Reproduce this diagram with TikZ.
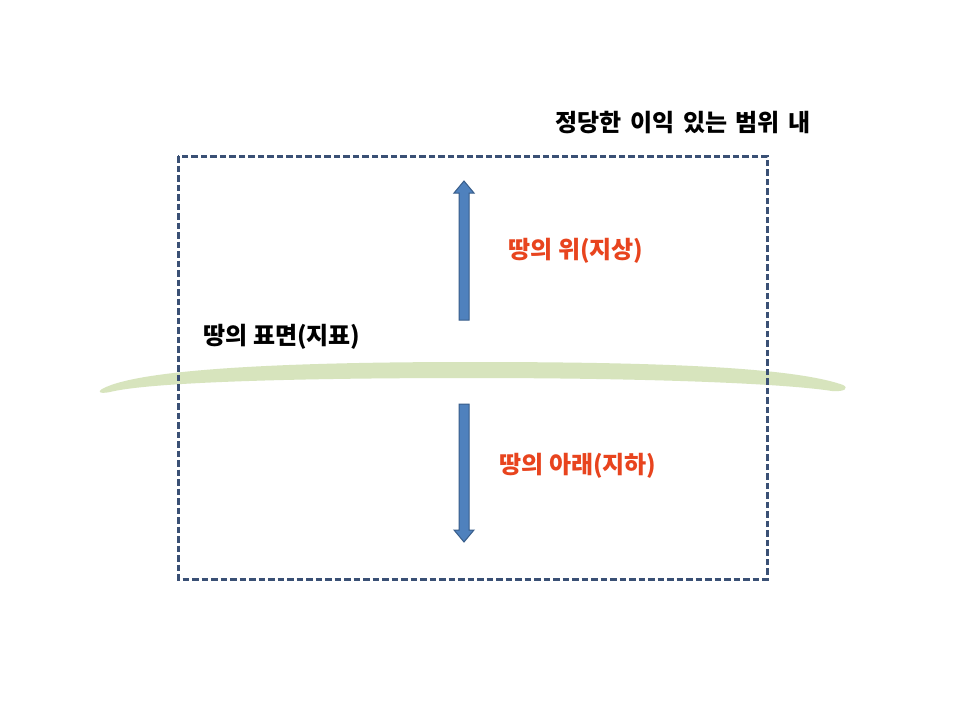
\documentclass[tikz,border=0pt]{standalone}
\usepackage{fontspec}
\newfontfamily\kr{Noto Sans CJK KR}
\definecolor{boxline}{HTML}{3A5075}
\definecolor{band}{HTML}{D7E4BD}
\definecolor{arrfill}{HTML}{4F81BD}
\definecolor{arrline}{HTML}{385D8A}
\definecolor{redtxt}{HTML}{E8441E}
\tikzset{
  blacklabel/.style={font=\kr\bfseries\fontsize{24}{28}\selectfont, text=black, inner sep=0pt},
  redlabel/.style={font=\kr\bfseries\fontsize{24}{28}\selectfont, text=redtxt, inner sep=0pt},
  rangebox/.style={draw=boxline, line width=3pt, dash pattern=on 6.5pt off 3pt},
  bigarrow/.style={fill=arrfill, draw=arrline, line width=1pt, line join=miter},
}
\newcommand{\wsp}{\hspace{8.5pt}}
\begin{document}
\begin{tikzpicture}[x=1pt,y=-1pt]
\useasboundingbox (0,0) rectangle (960,720);
\fill[white] (0,0) rectangle (960,720);
% ground surface band
\fill[band] (102,389) .. controls (140,368) and (300,362) .. (470,362)
  .. controls (640,362) and (790,366) .. (843,385)
  .. controls (849,388) and (845,392) .. (832,391)
  .. controls (780,383) and (640,378) .. (470,378)
  .. controls (300,378) and (150,382) .. (110,392)
  .. controls (100,394) and (97,392) .. (102,389) -- cycle;
% dashed range box
\draw[rangebox] (178,156) rectangle (767,579);
% arrows
\draw[bigarrow] (459,320) -- (459,193) -- (454,193) -- (464,181) -- (474,193) -- (469,193) -- (469,320) -- cycle;
\draw[bigarrow] (459,404) -- (459,530) -- (454,530) -- (464,542) -- (474,530) -- (469,530) -- (469,404) -- cycle;
% labels
\node[blacklabel] (range) at (683,123) {정당한\wsp 이익\wsp 있는\wsp 범위\wsp 내};
\node[redlabel] (above) at (576,251) {땅의 위(지상)};
\node[blacklabel] (surface) at (282,337) {땅의 표면(지표)};
\node[redlabel] (below) at (578,466) {땅의 아래(지하)};
\end{tikzpicture}
\end{document}
